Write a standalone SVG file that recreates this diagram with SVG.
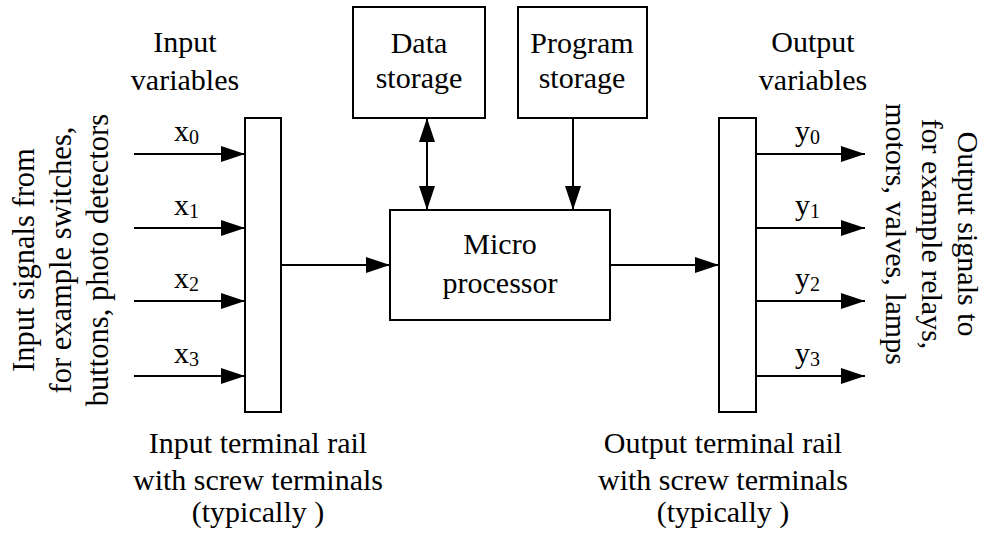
<svg xmlns="http://www.w3.org/2000/svg" width="989" height="537" viewBox="0 0 989 537">
<defs>
<marker id="ah" markerUnits="userSpaceOnUse" markerWidth="24" markerHeight="16" refX="24" refY="8" orient="auto-start-reverse" viewBox="0 0 24 16">
<path d="M0,0 L24,8 L0,16 z" fill="#000"/>
</marker>
</defs>
<style>
text{font-family:"Liberation Serif","Times New Roman",serif;font-size:30px;fill:#000}
.c{text-anchor:middle}
.sub{font-size:20px}
.rot{font-size:30.5px}
.box{fill:#fff;stroke:#000;stroke-width:2}
.ln{stroke:#000;stroke-width:2;fill:none}
.arr{marker-end:url(#ah)}
.dbl{marker-start:url(#ah);marker-end:url(#ah)}
</style>
<rect width="989" height="537" fill="#fff"/>

<g id="connectors">
<line class="ln arr" x1="134" y1="154" x2="245" y2="154"/>
<line class="ln arr" x1="134" y1="228" x2="245" y2="228"/>
<line class="ln arr" x1="134" y1="301" x2="245" y2="301"/>
<line class="ln arr" x1="134" y1="376" x2="245" y2="376"/>
<line class="ln arr" x1="281" y1="265" x2="390" y2="265"/>
<line class="ln arr" x1="610" y1="265" x2="719" y2="265"/>
<line class="ln dbl" x1="427" y1="118" x2="427" y2="210"/>
<line class="ln arr" x1="573" y1="118" x2="573" y2="210"/>
<line class="ln arr" x1="757" y1="154" x2="865" y2="154"/>
<line class="ln arr" x1="757" y1="228" x2="865" y2="228"/>
<line class="ln arr" x1="757" y1="301" x2="865" y2="301"/>
<line class="ln arr" x1="757" y1="376" x2="865" y2="376"/>
</g>

<g id="input-rail">
<rect class="box" x="245" y="118" width="36" height="294"/>
</g>
<g id="output-rail">
<rect class="box" x="719" y="118" width="37" height="294"/>
</g>
<g id="data-storage">
<rect class="box" x="353" y="7" width="132" height="111"/>
<text class="c" x="419" y="53">Data</text>
<text class="c" x="419" y="88">storage</text>
</g>
<g id="program-storage">
<rect class="box" x="518" y="7" width="129" height="111"/>
<text class="c" x="582" y="53">Program</text>
<text class="c" x="582" y="88">storage</text>
</g>
<g id="microprocessor">
<rect class="box" x="390" y="210" width="220" height="110"/>
<text class="c" x="500" y="254">Micro</text>
<text class="c" x="500" y="293">processor</text>
</g>

<g id="labels">
<text class="c" x="185" y="52">Input</text>
<text class="c" x="185" y="90">variables</text>
<text class="c" x="813" y="52">Output</text>
<text class="c" x="813" y="90">variables</text>

<text x="174" y="141">x<tspan class="sub" dy="3">0</tspan></text>
<text x="174" y="215">x<tspan class="sub" dy="3">1</tspan></text>
<text x="174" y="288">x<tspan class="sub" dy="3">2</tspan></text>
<text x="174" y="363">x<tspan class="sub" dy="3">3</tspan></text>

<text x="795" y="141">y<tspan class="sub" dy="3">0</tspan></text>
<text x="795" y="215">y<tspan class="sub" dy="3">1</tspan></text>
<text x="795" y="288">y<tspan class="sub" dy="3">2</tspan></text>
<text x="795" y="363">y<tspan class="sub" dy="3">3</tspan></text>

<g transform="rotate(-90)">
<text class="c rot" x="-260" y="33.5">Input signals from</text>
<text class="c rot" x="-260" y="70.5">for example switches,</text>
<text class="c rot" x="-260" y="107.5">buttons, photo detectors</text>
</g>
<g transform="rotate(90)">
<text class="c" x="234" y="-958">Output signals to</text>
<text class="c" x="234" y="-922">for example relays,</text>
<text class="c" x="234" y="-886">motors, valves, lamps</text>
</g>

<text class="c" x="258" y="453">Input terminal rail</text>
<text class="c" x="258" y="490">with screw terminals</text>
<text class="c" x="258" y="522">(typically )</text>
<text class="c" x="723" y="453">Output terminal rail</text>
<text class="c" x="723" y="490">with screw terminals</text>
<text class="c" x="723" y="522">(typically )</text>
</g>
</svg>
